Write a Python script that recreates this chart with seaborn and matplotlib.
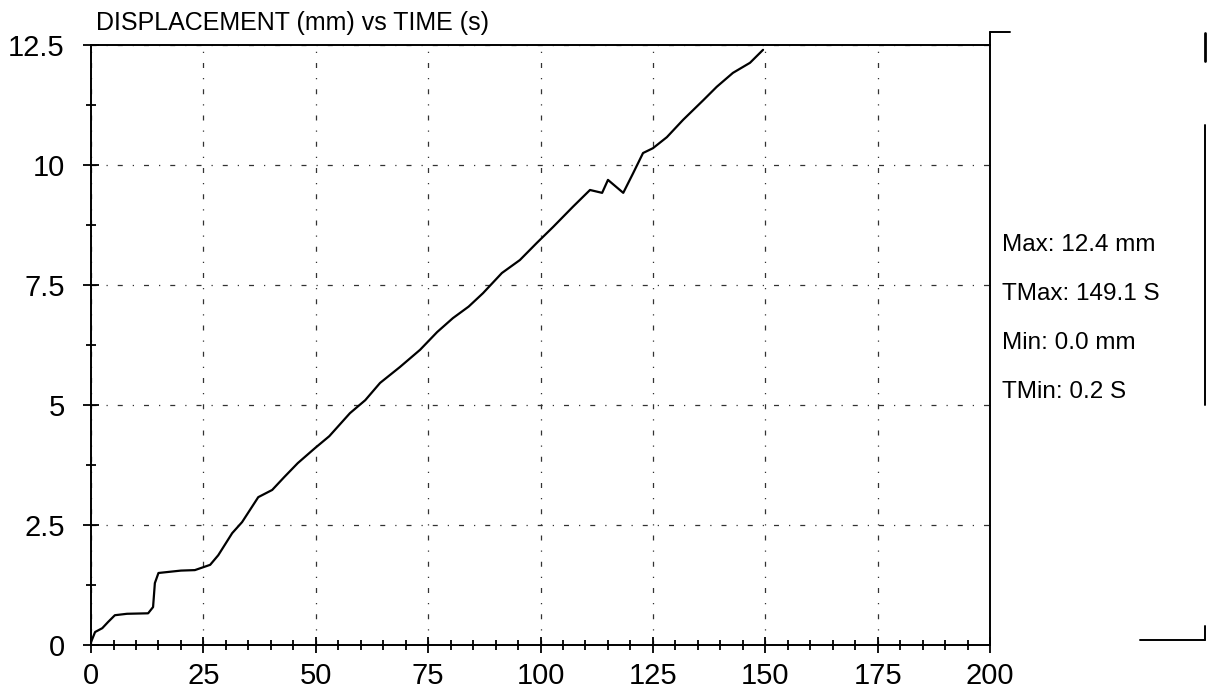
import matplotlib
matplotlib.use("Agg")
import matplotlib.pyplot as plt
import seaborn as sns
import pandas as pd
from matplotlib.lines import Line2D
from matplotlib.ticker import MultipleLocator

# values
time_s = [0, 0.9, 2.5, 3.8, 5.3, 8, 12.7, 13.8, 14.2, 15, 17, 20, 23.1, 26.5,
          28.3, 31.4, 33.6, 37.2, 40.3, 43, 46, 49.8, 53, 57.6, 61, 64.3, 68.7,
          73.2, 77, 80.5, 84, 87.2, 91.4, 95.4, 99.2, 102.8, 107.2, 111, 113.7,
          115, 118.4, 120.6, 122.8, 125, 128.1, 131.7, 136.2, 139.2, 142.8,
          146.6, 149.5]
disp_mm = [0.06, 0.27, 0.35, 0.48, 0.62, 0.65, 0.66, 0.79, 1.29, 1.5, 1.52,
           1.55, 1.56, 1.67, 1.87, 2.33, 2.56, 3.08, 3.23, 3.5, 3.79, 4.1, 4.35,
           4.83, 5.1, 5.46, 5.79, 6.15, 6.52, 6.81, 7.05, 7.33, 7.75, 8.02, 8.38,
           8.71, 9.13, 9.48, 9.42, 9.69, 9.42, 9.83, 10.25, 10.35, 10.58, 10.94,
           11.35, 11.63, 11.92, 12.13, 12.4]

x_ticks = [0, 25, 50, 75, 100, 125, 150, 175, 200]
y_ticks = [0, 2.5, 5, 7.5, 10, 12.5]
y_tick_labels = ["0", "2.5", "5", "7.5", "10", "12.5"]
title = "DISPLACEMENT (mm) vs TIME (s)"
stats = ["Max: 12.4 mm", "TMax: 149.1 S", "Min: 0.0 mm", "TMin: 0.2 S"]

df = pd.DataFrame({"time": time_s, "disp": disp_mm})

sns.set_style("ticks")
plt.rcParams["font.family"] = ["Liberation Sans", "DejaVu Sans"]
plt.rcParams["text.color"] = "black"

fig = plt.figure(figsize=(12.09, 6.96), dpi=100)
ax = fig.add_axes([0.0753, 0.0733, 0.7436, 0.862])

sns.lineplot(data=df, x="time", y="disp", color="black", linewidth=1.6, ax=ax)

ax.set_xlim(0, 200)
ax.set_ylim(0, 12.5)
ax.set_xticks(x_ticks)
ax.set_xticklabels([str(t) for t in x_ticks])
ax.set_yticks(y_ticks)
ax.set_yticklabels(y_tick_labels)
ax.xaxis.set_minor_locator(MultipleLocator(5))
ax.yaxis.set_minor_locator(MultipleLocator(1.25))
ax.tick_params(which="both", bottom=True, left=True, top=False, right=False)
ax.tick_params(which="major", direction="inout", length=12, width=1.3,
               color="black", labelsize=21, labelcolor="black")
ax.tick_params(axis="x", which="major", pad=6)
ax.tick_params(axis="y", which="major", pad=13)
ax.tick_params(which="minor", direction="inout", length=7, width=1.3, color="black")
ax.set_xlabel("")
ax.set_ylabel("")

for s in ax.spines.values():
    s.set_visible(True)
    s.set_color("black")
    s.set_linewidth(1.4)

# sparse dash-dot grid
ax.grid(True, which="major", color="#333333", linewidth=0.9,
        linestyle=(0, (4, 8, 1, 8)))
ax.set_axisbelow(True)

fig.text(0.079, 0.967, title, fontsize=18, ha="left", va="center", color="black")

for i, line in enumerate(stats):
    fig.text(0.829, 0.648 - i * 0.0706, line, fontsize=17.5, ha="left",
             va="center", color="black")

# bracket of the stats panel
fig.add_artist(Line2D([0.9967, 0.9967], [0.418, 0.820], color="black", linewidth=1.4))
fig.add_artist(Line2D([0.9967, 0.9967], [0.912, 0.952], color="black", linewidth=2))
fig.add_artist(Line2D([0.943, 0.9967], [0.080, 0.080], color="black", linewidth=1.4))
fig.add_artist(Line2D([0.9967, 0.9967], [0.080, 0.100], color="black", linewidth=1.4))
fig.add_artist(Line2D([0.8189, 0.835], [0.954, 0.954], color="black", linewidth=1.4))
fig.add_artist(Line2D([0.8189, 0.8189], [0.935, 0.954], color="black", linewidth=1.4))

fig.savefig("out.png", dpi=100)
